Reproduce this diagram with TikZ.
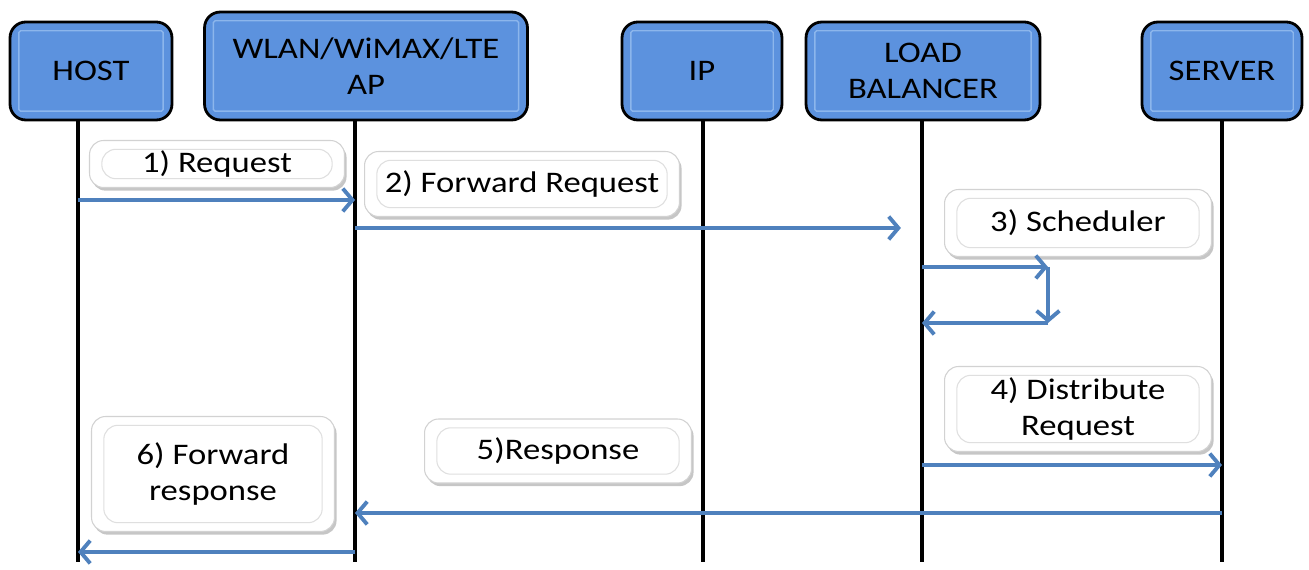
\documentclass[tikz,border=0pt]{standalone}
\usepackage{fontspec}
\setmainfont{Carlito}
\newfontfamily\widefont[FakeStretch=1.16]{Carlito}
\usetikzlibrary{positioning,arrows.meta,shadows}

\definecolor{hdrblue}{RGB}{92,146,222}
\definecolor{hdrrim}{RGB}{140,182,236}
\definecolor{msgblue}{RGB}{79,129,189}

\begin{document}
\begin{tikzpicture}[x=0.02cm, y=-0.02cm,
        actor/.style={draw=black, line width=1.6pt, rounded corners=9pt,
                      fill=hdrblue, align=center, inner sep=0pt,
                      font=\widefont\fontsize{17}{20.5}\selectfont,
                      path picture={\draw[hdrrim, line width=0.8pt, rounded corners=1pt]
                        ([shift={(5pt,-5pt)}]path picture bounding box.north west) rectangle
                        ([shift={(-5pt,5pt)}]path picture bounding box.south east);}},
        note/.style={draw=gray!35, line width=0.6pt, rounded corners=8pt,
                     fill=white, align=center, inner sep=0pt,
                     font=\widefont\fontsize{17}{20.5}\selectfont,
                     drop shadow={shadow xshift=1.2pt, shadow yshift=-1.8pt,
                                  opacity=0.45, fill=gray},
                     path picture={\draw[gray!25, line width=0.6pt]
                        ([shift={(7pt,-5pt)}]path picture bounding box.north west) rectangle
                        ([shift={(-7pt,5pt)}]path picture bounding box.south east);}},
        life/.style={line width=2.2pt},
        msg/.style={draw=msgblue, line width=2.2pt,
                    -{Straight Barb[length=5.5pt, width=13pt]}}]
      \useasboundingbox (0,0) rectangle (1309,570);

      % lifelines
      \coordinate (hostL) at (78,120);
      \coordinate (apL)   at (355,120);
      \coordinate (ipL)   at (703,120);
      \coordinate (lbL)   at (922,120);
      \coordinate (srvL)  at (1222,120);
      \foreach \l in {hostL, apL, ipL, lbL, srvL}
        \draw[life] (\l) -- (\l |- 0,562);

      % participants
      \node[actor, minimum width=3.24cm, minimum height=1.96cm] (host) at (91,71)   {HOST};
      \node[actor, minimum width=6.46cm, minimum height=2.16cm] (ap)   at (366,66)  {WLAN/WiMAX/LTE\\AP};
      \node[actor, minimum width=3.2cm,  minimum height=1.96cm] (ip)   at (702,71)  {IP};
      \node[actor, minimum width=4.68cm, minimum height=1.96cm] (lb)   at (923,71)  {LOAD\\BALANCER};
      \node[actor, minimum width=3.2cm,  minimum height=1.96cm] (srv)  at (1222,71) {SERVER};

      % step labels
      \node[note, minimum width=5.1cm,  minimum height=0.94cm] (n1) at (217,164)  {1) Request};
      \node[note, minimum width=6.3cm,  minimum height=1.3cm]  (n2) at (522,184)  {2) Forward Request};
      \node[note, minimum width=5.34cm, minimum height=1.34cm] (n3) at (1078,223) {3) Scheduler};
      \node[note, minimum width=5.34cm, minimum height=1.7cm]  (n4) at (1078,409) {4) Distribute\\Request};
      \node[note, minimum width=5.34cm, minimum height=1.28cm] (n5) at (558,451)  {5)Response};
      \node[note, minimum width=4.86cm, minimum height=2.3cm]  (n6) at (213,474)  {6) Forward\\response};

      % messages
      \coordinate (sc1) at (1048,267);
      \coordinate (sc2) at (1048,323);
      \draw[msg] (hostL |- 0,200) -- (apL |- 0,200);
      \draw[msg] (apL |- 0,228) -- ([xshift=-12]lbL |- 0,228);
      \draw[msg] (lbL |- sc1) -- (sc1);
      \draw[msg] (sc1) -- (sc2);
      \draw[msg] (sc2) -- (lbL |- sc2);
      \draw[msg] (lbL |- 0,465) -- (srvL |- 0,465);
      \draw[msg] (srvL |- 0,513) -- (apL |- 0,513);
      \draw[msg] (apL |- 0,552) -- (hostL |- 0,552);
    \end{tikzpicture}
\end{document}
